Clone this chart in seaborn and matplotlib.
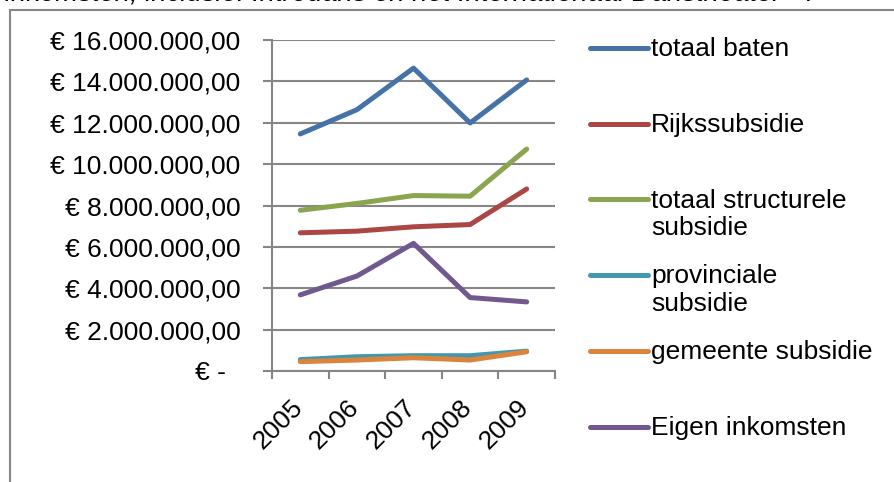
import matplotlib
matplotlib.use("Agg")
import matplotlib.pyplot as plt
import matplotlib.ticker as mticker
from matplotlib.patches import Rectangle
from matplotlib.transforms import ScaledTranslation
import seaborn as sns
import pandas as pd

# data (euro)
jaren = ["2005", "2006", "2007", "2008", "2009"]
totaal_baten = [11460000, 12630000, 14640000, 11990000, 14070000]
rijkssubsidie = [6680000, 6760000, 6970000, 7080000, 8800000]
totaal_structureel = [7770000, 8100000, 8480000, 8450000, 10730000]
provinciaal = [550000, 690000, 740000, 740000, 960000]
gemeente = [450000, 530000, 640000, 530000, 930000]
eigen_inkomsten = [3680000, 4590000, 6170000, 3550000, 3340000]

reeksen = ["totaal baten", "Rijkssubsidie", "totaal structurele subsidie",
           "provinciale subsidie", "gemeente subsidie", "Eigen inkomsten"]
legend_labels = ["totaal baten\n", "Rijkssubsidie\n", "totaal structurele\nsubsidie",
                 "provinciale\nsubsidie", "gemeente subsidie\n", "Eigen inkomsten\n"]
kleuren = ["#4572A7", "#AA4643", "#89A54E", "#4198AF", "#DB843D", "#71588F"]

waarden = [totaal_baten, rijkssubsidie, totaal_structureel, provinciaal, gemeente, eigen_inkomsten]
df = pd.concat([pd.DataFrame({"jaar": jaren, "bedrag": w, "reeks": r})
                for r, w in zip(reeksen, waarden)], ignore_index=True)

sns.set_style("white")
plt.rcParams["font.family"] = ["Liberation Sans", "DejaVu Sans"]
plt.rcParams["text.color"] = "black"
plt.rcParams["xtick.color"] = "black"
plt.rcParams["ytick.color"] = "black"

grijs = "#868686"
fig = plt.figure(figsize=(8.94, 4.82), dpi=100)
ax = fig.add_axes([272 / 894, 1 - 371 / 482, 283 / 894, 331 / 482])

sns.lineplot(data=df, x="jaar", y="bedrag", hue="reeks", hue_order=reeksen,
             palette=kleuren, linewidth=3.6, sort=False, ax=ax,
             solid_joinstyle="round", solid_capstyle="round")

ax.set_xlim(-0.5, 4.5)
ax.set_ylim(0, 16000000)
ax.yaxis.set_major_locator(mticker.MultipleLocator(2000000))


def euro(v, pos):
    if v == 0:
        return "€ -\u2007"
    return "€ " + f"{v:,.2f}".replace(",", "X").replace(".", ",").replace("X", ".")


ax.yaxis.set_major_formatter(mticker.FuncFormatter(euro))
ax.grid(axis="y", color=grijs, linewidth=1.5)
ax.set_axisbelow(True)
for s in ["top", "right"]:
    ax.spines[s].set_visible(False)
for s in ["left", "bottom"]:
    ax.spines[s].set_color(grijs)
    ax.spines[s].set_linewidth(1.5)

ax.tick_params(axis="y", left=True, length=6.5, width=1.5, color=grijs, pad=16,
               labelsize=19, labelcolor="black")
ax.xaxis.set_minor_locator(mticker.FixedLocator([i - 0.5 for i in range(len(jaren) + 1)]))
ax.tick_params(axis="x", which="minor", bottom=True, length=6, width=1.5, color=grijs)
ax.tick_params(axis="x", which="major", length=0, pad=17, labelsize=19, labelcolor="black")
ax.set_xlabel("")
ax.set_ylabel("")
verschuiving = ScaledTranslation(7 / 100, 0, fig.dpi_scale_trans)
for lbl in ax.get_xticklabels():
    lbl.set_rotation(45)
    lbl.set_ha("right")
    lbl.set_va("top")
    lbl.set_transform(lbl.get_transform() + verschuiving)

# legend
handles, _ = ax.get_legend_handles_labels()
ax.legend_.remove()
leg = fig.legend(handles, legend_labels, loc="upper left", bbox_to_anchor=(590 / 894, 1 - 37 / 482),
                 frameon=False, fontsize=19, handlelength=2.2, handletextpad=0.12,
                 labelspacing=0.91, handleheight=1.1, borderaxespad=0, borderpad=0)
for t in leg.get_texts():
    t.set_linespacing(1.2)
for col in leg._legend_handle_box.get_children():
    for item in col.get_children():
        item.align = "top"

# afgesneden titel boven de grafiek
fig.text(5 / 894, 1 - 1 / 482,
         "inkomsten, inclusief Introdans en het Internationaal Danstheater ² .",
         fontsize=19.8, style="italic", va="baseline", ha="left")

# kader van het grafiekgebied
fig.add_artist(Rectangle((10 / 894, -0.1), 1.2, 1.1 - 10 / 482, transform=fig.transFigure,
                         fill=False, edgecolor=grijs, linewidth=1.5))

fig.savefig("out.png", dpi=100)
